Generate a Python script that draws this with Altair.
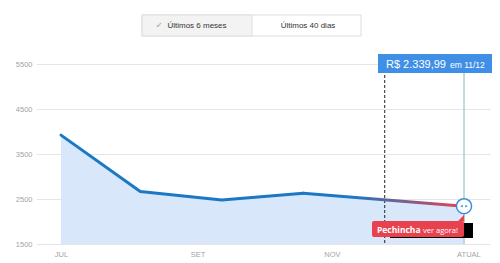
import altair as alt
import pandas as pd

# ---- data ----
dias = [0, 36, 73, 110, 183]            # days since 1 Jul
precos = [3920, 2665, 2480, 2630, 2339.99]
ticks_x = [0, 62, 123, 185]
rotulos_x = ["JUL", "SET", "NOV", "ATUAL"]
ticks_y = [1500, 2500, 3500, 4500, 5500]
dia_corte = [147]
data_atual = "11/12"
botoes = ["Últimos 6 meses", "Últimos 40 dias"]
selo = ["Pechincha", "ver agora!"]

df = pd.DataFrame({"dia": dias, "preco": precos})
df_hist = df.iloc[:4]
df_fim = df.iloc[3:]
df_atual = df.iloc[[-1]]
df_corte = pd.DataFrame({"dia": dia_corte})
one = pd.DataFrame({"a": [0]})

FONT = "Liberation Sans"
AZUL = "#1b78c4"
VERMELHO = "#e8424f"
AZUL_TIP = "#3f8fe6"

label_expr = " : ".join(
    f"datum.value == {t} ? '{r}'" for t, r in zip(ticks_x[:-1], rotulos_x[:-1])
) + f" : '{rotulos_x[-1]}'"

X = alt.X(
    "dia:Q",
    scale=alt.Scale(domain=[-11.35, 194.8], nice=False, zero=False),
    axis=alt.Axis(values=ticks_x, labelExpr=label_expr, grid=False, domain=False,
                  ticks=False, labelPadding=6, labelFontSize=7.5, labelColor="#a3a3a3",
                  labelFont=FONT, labelFlush=False, title=None),
)
Y = alt.Y(
    "preco:Q",
    scale=alt.Scale(domain=[1500, 5500], nice=False, zero=False),
    axis=alt.Axis(values=ticks_y, format="d", grid=True, gridColor="#e6e6e6", domain=False,
                  ticks=False, labelPadding=4, labelFontSize=7.5, labelColor="#a3a3a3",
                  labelFont=FONT, title=None),
)

area = alt.Chart(df).mark_area(color="#d8e7fa", opacity=1).encode(
    x=X, y=Y, y2=alt.datum(1500))

corte = alt.Chart(df_corte).mark_rule(color="#222222", strokeWidth=1, strokeDash=[3, 2]).encode(
    x=X, y=alt.value(11), y2=alt.value(180))

teal = alt.Chart(df_atual).mark_rule(color="#a8d1d6", strokeWidth=1.5).encode(
    x=X, y=alt.value(9), y2=alt.value(180))

linha = alt.Chart(df_hist).mark_line(color=AZUL, strokeWidth=3, strokeCap="round",
                                     strokeJoin="round").encode(x=X, y=Y)

grad = alt.Gradient(
    gradient="linear",
    stops=[alt.GradientStop(color=AZUL, offset=0),
           alt.GradientStop(color=AZUL, offset=0.3),
           alt.GradientStop(color=VERMELHO, offset=1)],
    x1=0, x2=1, y1=0, y2=0,
)
linha_fim = alt.Chart(df_fim).mark_line(stroke=grad, strokeWidth=3, strokeCap="round").encode(
    x=X, y=Y)

# badge "Pechincha ver agora!"
preto = alt.Chart(one).mark_rect(color="#000000").encode(
    x=alt.value(354), x2=alt.value(437), y=alt.value(159), y2=alt.value(174))
vermelho = alt.Chart(one).mark_rect(color=VERMELHO, cornerRadius=2).encode(
    x=alt.value(336), x2=alt.value(428), y=alt.value(157), y2=alt.value(173))
notch = alt.Chart(one).mark_point(shape="M 1 -1 L 1 1 L -1 1 Z", size=40, filled=True,
                                  color=VERMELHO, opacity=1).encode(
    x=alt.value(425), y=alt.value(154))
t_selo1 = alt.Chart(one).mark_text(text=selo[0], align="left", baseline="alphabetic",
                                   fontSize=8.5, fontWeight="bold", color="white",
                                   font="Open Sans").encode(x=alt.value(341), y=alt.value(169))
t_selo2 = alt.Chart(one).mark_text(text=selo[1], align="left", baseline="alphabetic",
                                   fontSize=7.5, color="white",
                                   font="Open Sans").encode(x=alt.value(387), y=alt.value(169))

# current-price marker
circ = alt.Chart(df_atual).mark_point(shape="circle", size=227, filled=True, fill="white",
                                      stroke="#3a8ee0", strokeWidth=1.5, opacity=1).encode(x=X, y=Y)
seta_e = alt.Chart(df_atual).mark_point(shape="triangle-left", size=8, filled=True,
                                        color="#3a8ee0", opacity=1, xOffset=-2.5).encode(x=X, y=Y)
seta_d = alt.Chart(df_atual).mark_point(shape="triangle-right", size=8, filled=True,
                                        color="#3a8ee0", opacity=1, xOffset=2.5).encode(x=X, y=Y)

# tooltip box
preco_txt = "R$ " + f"{precos[-1]:,.2f}".replace(",", "X").replace(".", ",").replace("X", ".")
caixa = alt.Chart(one).mark_rect(color=AZUL_TIP).encode(
    x=alt.value(342), x2=alt.value(456), y=alt.value(-10), y2=alt.value(9))
t_preco = alt.Chart(one).mark_text(text=preco_txt, align="left", baseline="alphabetic",
                                   fontSize=11, color="white", font=FONT).encode(
    x=alt.value(350), y=alt.value(4.3))
t_data = alt.Chart(one).mark_text(text="em " + data_atual, align="left", baseline="alphabetic",
                                  fontSize=8.5, color="white", font=FONT).encode(
    x=alt.value(414), y=alt.value(4.3))

# buttons
btn_all = alt.Chart(one).mark_rect(fill="white", stroke="#dddddd", strokeWidth=1).encode(
    x=alt.value(106), x2=alt.value(325), y=alt.value(-49), y2=alt.value(-28))
btn_sel = alt.Chart(one).mark_rect(fill="#f3f3f3", stroke="#dddddd", strokeWidth=1).encode(
    x=alt.value(106), x2=alt.value(216), y=alt.value(-49), y2=alt.value(-28))
check = alt.Chart(one).mark_text(text="✔", align="center", baseline="alphabetic",
                                 fontSize=8, color="#b8b8b8", font="DejaVu Sans").encode(
    x=alt.value(123), y=alt.value(-35.7))
t_b1 = alt.Chart(one).mark_text(text=botoes[0], align="center", baseline="alphabetic",
                                fontSize=8, color="#333333", font=FONT).encode(
    x=alt.value(161), y=alt.value(-35.7))
t_b2 = alt.Chart(one).mark_text(text=botoes[1], align="center", baseline="alphabetic",
                                fontSize=8, color="#333333", font=FONT).encode(
    x=alt.value(272), y=alt.value(-35.7))

chart = alt.layer(
    area, corte, teal, linha, linha_fim,
    preto, vermelho, notch, t_selo1, t_selo2,
    circ, seta_e, seta_d,
    caixa, t_preco, t_data,
    btn_all, btn_sel, check, t_b1, t_b2,
).properties(
    width=454, height=180,
    padding={"left": 36, "top": 64, "right": 10, "bottom": 19},
    autosize=alt.AutoSizeParams(type="none"),
    background="white",
).configure_view(stroke=None)

chart.save("out.html", embed_options={"renderer": "svg", "actions": False})
